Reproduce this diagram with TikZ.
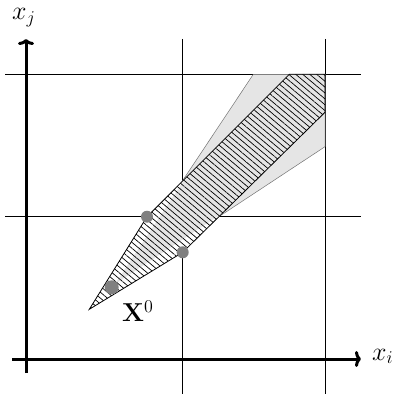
\documentclass[tikz,border=0pt]{standalone}
\usetikzlibrary{patterns.meta,arrows.meta}
\definecolor{conegray}{gray}{0.9}
\definecolor{conedge}{gray}{0.45}
\definecolor{dotgray}{gray}{0.5}
\newcommand{\biglbl}[1]{\scalebox{1.25}{\fontsize{20.74}{25}\selectfont #1}}
\begin{document}
\begin{tikzpicture}[x=1pt,y=-1pt,
  gridline/.style={line width=0.9pt},
  axis/.style={line width=3pt,-{To[length=6pt,width=16pt]}},
  lbl/.style={inner sep=0pt},
  dotc/.style={circle, fill=dotgray, inner sep=0pt, minimum size=12pt},
  hatch/.style={pattern={Lines[angle=-40,distance=4.5pt,line width=0.7pt]}},
]
\useasboundingbox (0,0) rectangle (395,396);
% key points
\coordinate (apex) at (89.3,309.3);
\coordinate (h1) at (147,216.7);
\coordinate (h2) at (289.3,74.3);
\coordinate (h3) at (325,74.3);
\coordinate (h4) at (325,112.3);
\coordinate (h5) at (182.7,252.3);
\coordinate (c0) at (111.7,287.3);
\coordinate (c1) at (253.3,74.3);
\coordinate (c2) at (325,74.3);
\coordinate (c3) at (325,146.7);
% grid
\draw[gridline] (5,74.3) -- (361,74.3);
\draw[gridline] (5,216.7) -- (361,216.7);
\draw[gridline] (182.7,39) -- (182.7,394);
\draw[gridline] (325,39) -- (325,394);
% hatched region background
\fill[white] (apex) -- (h1) -- (h2) -- (h3) -- (h4) -- (h5) -- cycle;
% cone
\draw[fill=conegray, draw=conedge, line width=0.5pt] (c0) -- (c1) -- (c2) -- (c3) -- cycle;
\begin{scope}
  \clip (apex) -- (h1) -- (h2) -- (h3) -- (h4) -- (h5) -- cycle;
  \draw[white, line width=1.6pt] (c1) -- (c0) -- (c3);
\end{scope}
\path[hatch] (apex) -- (h1) -- (h2) -- (h3) -- (h4) -- (h5) -- cycle;
\draw[line width=0.8pt, line join=miter] (apex) -- (h1) -- (h2) -- (h3) -- (h4) -- (h5) -- cycle;
% dots
\node[dotc, minimum size=14pt] (d0) at (c0) {};
\node[dotc] (d1) at (h1) {};
\node[dotc] (d2) at (h5) {};
% axes
\draw[axis] (12,359) -- (361,359);
\draw[axis] (26,373) -- (26,39);
% labels
\node[lbl, anchor=base west] (xj) at (12,19.5) {\biglbl{$x_j$}};
\node[lbl, anchor=base west] (xi) at (372,360) {\biglbl{$x_i$}};
\node[lbl, anchor=base west] (X0) at (122,321.7) {\biglbl{$\mathbf{X}^0$}};
\end{tikzpicture}
\end{document}
